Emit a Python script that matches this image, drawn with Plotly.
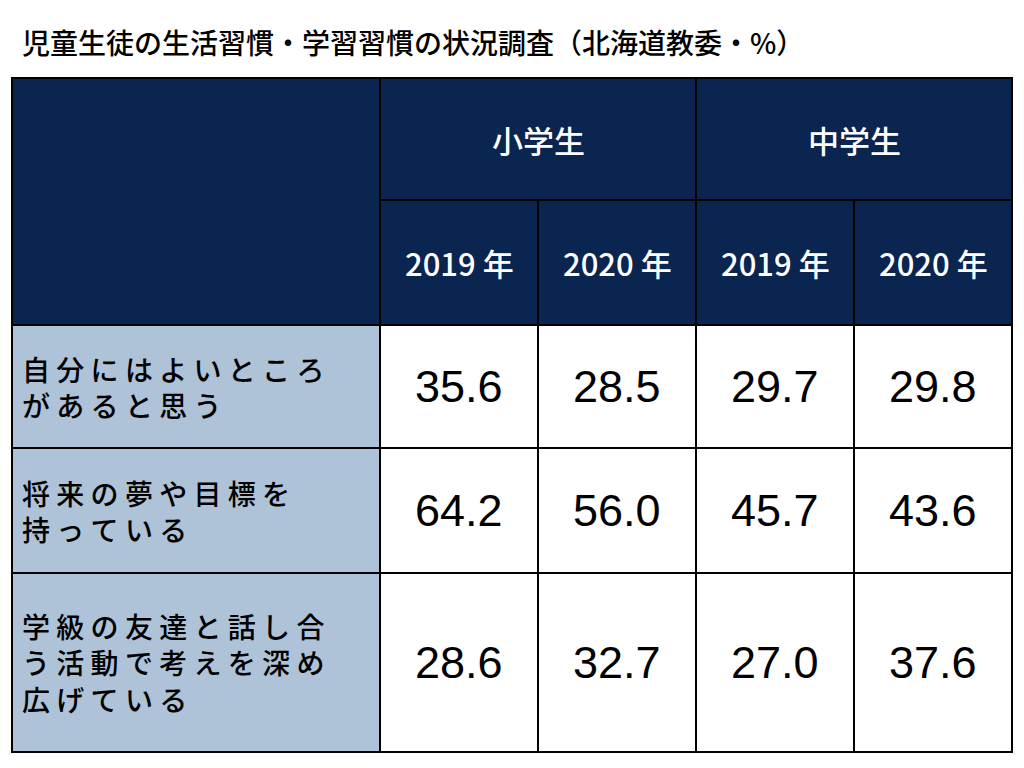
import plotly.graph_objects as go

title = "児童生徒の生活習慣・学習習慣の状況調査（北海道教委・%）"
groups = ["小学生", "中学生"]
years = ["2019 年", "2020 年", "2019 年", "2020 年"]
row_labels = [
    ["自 分 に は よ い と こ ろ", "が あ る と 思 う"],
    ["将 来 の 夢 や 目 標 を", "持 っ て い る"],
    ["学 級 の 友 達 と 話 し 合", "う 活 動 で 考 え を 深 め", "広 げ て い る"],
]
values = [
    [35.6, 28.5, 29.7, 29.8],
    [64.2, 56.0, 45.7, 43.6],
    [28.6, 32.7, 27.0, 37.6],
]

W, H = 1024, 768
OFF = 8  # page body margin
col_x = [12, 380, 538, 696, 854, 1012]
row_y = [78, 200, 325, 448, 573, 752]
NAVY = "#0b2551"
LABEL_BG = "#aec3d7"
JP = "Noto Sans CJK JP"

shapes, ann = [], []

def rect(x0, y0, x1, y1, fill):
    shapes.append(dict(type="rect", xref="x", yref="y", x0=x0, x1=x1, y0=y0, y1=y1,
                       fillcolor=fill, line=dict(color="black", width=2), layer="below"))

rect(col_x[0], row_y[0], col_x[1], row_y[2], NAVY)
for g, name in enumerate(groups):
    x0, x1 = col_x[1 + 2 * g], col_x[3 + 2 * g]
    rect(x0, row_y[0], x1, row_y[1], NAVY)
    ann.append(dict(x=(x0 + x1) / 2, y=(row_y[0] + row_y[1]) / 2, text=name, showarrow=False,
                    font=dict(family=JP, size=31, color="white", weight=500)))
for j, yr in enumerate(years):
    x0, x1 = col_x[1 + j], col_x[2 + j]
    rect(x0, row_y[1], x1, row_y[2], NAVY)
    ann.append(dict(x=(x0 + x1) / 2, y=(row_y[1] + row_y[2]) / 2, text=yr, showarrow=False,
                    font=dict(family=JP, size=31, color="white", weight=500)))

for i, (lines, vals) in enumerate(zip(row_labels, values)):
    y0, y1 = row_y[2 + i], row_y[3 + i]
    rect(col_x[0], y0, col_x[1], y1, LABEL_BG)
    ann.append(dict(x=col_x[0] + 8, y=(y0 + y1) / 2, text="<br>".join(lines), showarrow=False,
                    xanchor="left", align="left",
                    font=dict(family=JP, size=28, color="black", weight=500)))
    for j, v in enumerate(vals):
        x0, x1 = col_x[1 + j], col_x[2 + j]
        rect(x0, y0, x1, y1, "white")
        ann.append(dict(x=(x0 + x1) / 2, y=(y0 + y1) / 2, text=f"{v:.1f}", showarrow=False,
                        font=dict(family="Liberation Sans", size=45, color="black")))

ann.append(dict(x=20, y=42, text=title, showarrow=False, xanchor="left",
                font=dict(family=JP, size=28, color="black", weight=500)))

fig = go.Figure()
fig.update_layout(
    width=W, height=H, margin=dict(l=0, r=0, t=0, b=0),
    plot_bgcolor="white", paper_bgcolor="white",
    xaxis=dict(range=[OFF, W + OFF], visible=False, fixedrange=True),
    yaxis=dict(range=[H + OFF, OFF], visible=False, fixedrange=True),
    shapes=shapes, annotations=ann, showlegend=False,
)
fig.write_html("out.html")
